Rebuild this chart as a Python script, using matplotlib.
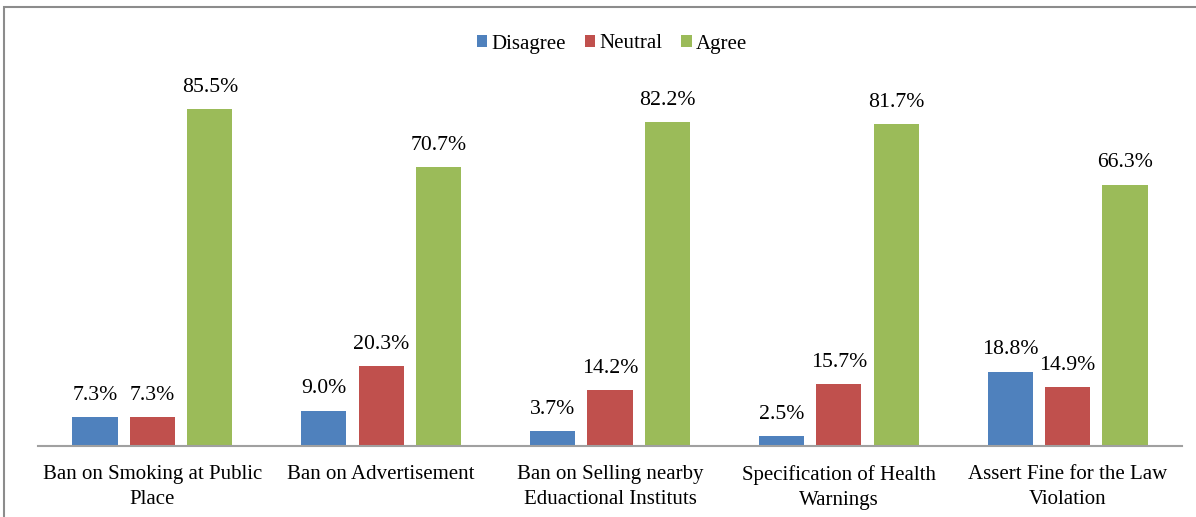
import numpy as np
import matplotlib.pyplot as plt
from matplotlib.patches import Rectangle

categories = ["Ban on Smoking at Public\nPlace", "Ban on Advertisement",
              "Ban on Selling nearby\nEduactional Instituts", "Specification of Health\nWarnings",
              "Assert Fine for the Law\nViolation"]
disagree = [7.3, 9.0, 3.7, 2.5, 18.8]
neutral = [7.3, 20.3, 14.2, 15.7, 14.9]
agree = [85.5, 70.7, 82.2, 81.7, 66.3]
series_names = ["Disagree", "Neutral", "Agree"]
colors = ["#4F81BD", "#C0504D", "#9BBB59"]

plt.rcParams['font.family'] = ['Liberation Serif', 'DejaVu Serif']

W, H = 1196, 517
fig = plt.figure(figsize=(W / 100, H / 100), dpi=100)
fig.patch.set_facecolor('white')

# outer frame of the chart area
fig.patches.append(Rectangle((4 / W, -0.1), 1.2, (H - 7) / H + 0.1, transform=fig.transFigure,
                             fill=False, edgecolor='#8c8c8c', linewidth=1.5))

ax = fig.add_axes([38 / W, (H - 446) / H, (1182 - 38) / W, (446 - 52) / H])
x = np.arange(len(categories))
width = 0.197
step = 0.251
for i, (vals, name, c) in enumerate(zip([disagree, neutral, agree], series_names, colors)):
    bars = ax.bar(x + (i - 1) * step, vals, width, color=c, label=name)
    for b, v in zip(bars, vals):
        ax.annotate(f"{v:.1f}%", (b.get_x() + b.get_width() / 2, v), xytext=(0, 9),
                    textcoords='offset points', ha='center', va='bottom', fontsize=15.7)

ax.set_xlim(-0.5, len(categories) - 0.5)
ax.set_ylim(0, 100)
ax.set_xticks(x)
ax.set_xticklabels(categories, fontsize=15, linespacing=1.4)
ax.tick_params(axis='x', length=0, pad=14)
ax.set_yticks([])
for s in ['top', 'right', 'left']:
    ax.spines[s].set_visible(False)
ax.spines['bottom'].set_color('#a0a0a0')
ax.spines['bottom'].set_linewidth(1.5)

fig.legend(loc='center', bbox_to_anchor=(612 / W, 1 - 44 / H), ncol=3, frameon=False,
           fontsize=15, handlelength=0.5, handleheight=0.5, handletextpad=0.2,
           columnspacing=0.9)

fig.savefig('out.png', dpi=100)
